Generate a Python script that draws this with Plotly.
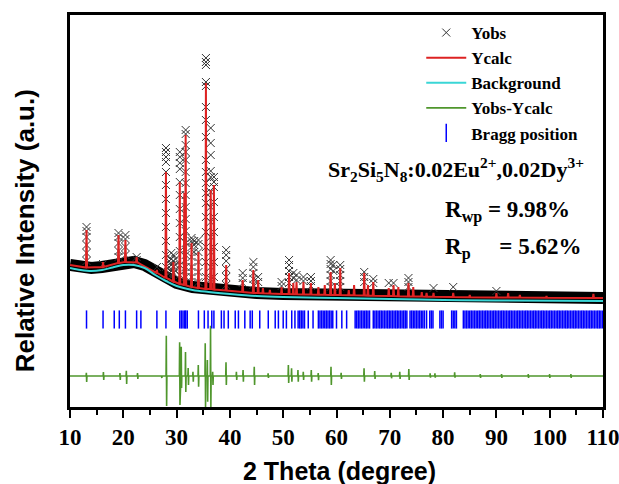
import plotly.graph_objects as go

# ---------------- data (intensity in arbitrary units) ----------------
bg_x = [10, 12, 14, 16, 18, 20, 22, 24, 26, 28, 30, 33, 36, 40, 45, 50, 60, 70, 80, 90, 110]
bg_y = [139, 137, 136, 137, 139.5, 142, 142, 139, 132, 126, 121, 117, 115, 113, 111, 110, 109, 108, 107, 106.5, 106]
band_y = [142, 140, 139, 140, 142.5, 145, 145, 142, 135, 129, 124, 120, 118, 116, 114, 113, 112, 111, 110, 109.5, 109]

calc_pos = [13.1, 16.2, 19.1, 20.4, 22.5, 26.3, 28.0, 29.4, 30.6, 31.45, 31.7, 32.8, 34.1, 35.5, 36.4, 37.0,
            39.3, 42.4, 44.4, 45.3, 46.2, 47.5, 49.7, 51.1, 51.9, 52.5, 53.8, 55.2, 56.6, 57.8, 58.9, 59.7,
            60.7, 62.3, 63.3, 65.2, 65.9, 66.9, 69.8, 70.7, 71.6, 73.5, 74.4, 76.0, 76.9, 78.2, 81.9, 85.0,
            90.0, 92.2, 94.4, 99.4, 108.2]
calc_top = [177, 145, 172, 167, 150, 137, 235, 145, 225, 214, 272, 164, 155, 324, 217, 222,
            142, 127, 137, 127, 119, 117, 120, 134, 124, 125, 125, 124, 120, 122, 135, 124,
            139, 117, 122, 134, 122, 125, 119, 122, 120, 124, 120, 115, 114, 114, 114, 112,
            114, 114, 112, 111, 113]
calc_base = [139.5, 140, 144, 145, 144.5, 134, 129, 125.5, 123, 122, 121.5, 120, 119, 118, 118, 117.5,
             116.5, 115, 114, 114, 113.8, 113.5, 113, 113, 112.8, 112.7, 112.6, 112.5, 112.3, 112.2, 112.1, 112,
             112, 111.8, 111.7, 111.5, 111.4, 111.3, 111, 111, 110.8, 110.6, 110.6, 110.4, 110.3, 110.2, 110, 109.7,
             109.5, 109.5, 109.4, 109.3, 109]

obs_peaks = [
    (13.1, [180, 176, 170, 162, 154, 146]),
    (16.2, [143]),
    (19.1, [174, 170, 164, 156, 150]),
    (20.4, [172, 168, 160, 152]),
    (22.5, [150, 147]),
    (26.3, [140]),
    (28.0, [259, 255, 250, 245, 235, 222, 208, 194, 180, 166, 152, 140]),
    (28.6, [146, 140, 134]),
    (29.0, [154, 148, 142, 136, 130]),
    (29.4, [152, 146, 140, 134]),
    (29.8, [148, 142, 136]),
    (30.6, [255, 250, 244, 238, 225, 212, 198, 184, 170, 156, 142, 132]),
    (31.7, [277, 273, 262, 255, 247, 235, 224, 212, 200, 188, 176, 164, 152, 140, 130]),
    (32.8, [169, 166, 160, 150, 140, 130]),
    (33.3, [166, 162, 155]),
    (34.1, [167, 163, 155, 145, 135, 125]),
    (35.5, [349, 345, 342, 325, 321, 300, 287, 270, 247, 235, 224, 214, 204, 190, 175, 160, 145, 130]),
    (36.4, [279, 264, 252, 236, 230, 215, 200, 185, 170, 155, 140, 128]),
    (37.0, [230, 225, 220, 205, 190, 175, 160, 145, 130]),
    (39.3, [157, 152, 146, 138, 130, 122]),
    (42.4, [134, 129, 124]),
    (44.4, [145, 140, 134, 128, 122]),
    (45.3, [130, 125]),
    (49.7, [125, 121]),
    (51.1, [147, 142, 136, 130, 124]),
    (51.9, [134, 129]),
    (52.5, [132, 127]),
    (53.8, [130, 126]),
    (55.2, [130, 126, 121]),
    (58.9, [147, 143, 138, 132, 126, 120]),
    (59.4, [142, 136]),
    (60.7, [142, 138, 132, 126, 120]),
    (65.2, [135, 130, 125]),
    (66.9, [128, 124]),
    (69.8, [124]),
    (70.7, [124]),
    (73.5, [129, 125, 120]),
    (78.2, [119]),
    (81.9, [120]),
    (90.0, [116]),
]

diff_base = 31
diff_pos = [13.1, 16.3, 19.4, 20.6, 22.7, 27.2, 28.1, 30.6, 30.9, 31.7, 32.2, 33.1, 34.1, 35.4, 35.8, 36.4,
            36.8, 39.3, 41.25, 42.5, 44.6, 47.2, 51.0, 51.6, 52.8, 53.8, 55.3, 56.6, 59.0, 60.9, 65.2, 67.2,
            70.3, 71.9, 73.6, 77.6, 78.5, 82.2, 87.0, 91.0, 96.0, 100.0, 104.0]
diff_up = [34.3, 35, 34, 36.3, 34, 31, 71.3, 64.7, 60.3, 55, 39, 35.3, 42, 63.7, 47, 81.3,
           35.3, 44.7, 35.3, 37, 40.3, 33.7, 42, 38.7, 37, 35.3, 37, 34, 40.3, 34.3, 38.7, 36,
           34.3, 35.3, 38, 33.7, 33.7, 34.7, 33, 33, 33, 33, 33]
diff_down = [25, 27, 27, 23, 28, 29, 1, 2, 19, 15, 22, 25.3, 20.3, 0, 5.3, 0,
             22, 22, 27, 25.3, 22, 29, 24, 25.3, 25.3, 27, 25.3, 26.7, 22, 28, 25.3, 28,
             28.7, 28, 27, 29.3, 29.3, 29.3, 29, 29, 29, 29, 29]

bragg_pos = [13.1, 16.2, 18.3, 19.25, 20.4, 22.5, 23.3, 26.3, 28.0, 30.6, 30.9, 31.2, 31.5, 31.7, 32.0,
             34.1, 35.2, 35.9, 36.6, 37.0, 38.4, 38.9, 39.7, 41.0, 41.6, 42.8, 43.8, 44.2, 45.6, 47.2,
             48.5, 49.1, 50.0, 50.6, 51.6, 52.2, 52.8, 53.1, 53.4, 53.7, 54.0, 54.7, 55.6,
             56.6, 56.9, 57.2, 57.5, 57.8, 58.1, 58.4, 58.7, 59.0, 59.3, 60.0, 61.0, 61.9,
             63.5, 63.8, 64.1, 64.4, 64.7, 65.0, 65.3, 65.6, 65.9, 66.2,
             66.9, 67.2, 67.5, 67.8, 68.1, 68.4, 68.7, 69.0, 69.3, 69.6, 69.9, 70.2, 70.5, 70.8,
             71.1, 71.4, 71.7, 72.0, 72.3, 72.6, 72.9, 73.2,
             73.8, 74.1, 74.4, 74.7, 75.0, 75.3, 75.6, 75.9, 76.2, 76.5, 76.9,
             77.5, 77.8, 78.1, 79.4, 79.7, 80.0, 81.6, 81.9, 82.2, 82.5,
             83.8, 84.1, 84.4, 84.7, 85.0, 85.3, 85.6, 85.9, 86.2, 86.5, 86.8, 87.1, 87.4, 87.7,
             88.0, 88.3, 88.6, 88.9, 89.2, 89.5, 89.8, 90.1, 90.4, 90.7, 91.0, 91.3, 91.6, 91.9,
             92.2, 92.5, 92.8, 93.1, 93.4, 93.7, 94.0, 94.3, 94.6, 94.9, 95.2, 95.5, 95.8, 96.1,
             96.4, 96.7, 97.0, 97.3, 97.6, 97.9, 98.2, 98.5, 98.8, 99.1, 99.4, 99.7, 100.0, 100.3,
             100.6, 100.9, 101.2, 101.5, 101.8, 102.1, 102.4, 102.7, 103.0, 103.3, 103.6, 103.9,
             104.2, 104.5, 104.8, 105.1, 105.4, 105.7, 106.0, 106.3, 106.6, 106.9, 107.2, 107.5,
             107.8, 108.1, 108.4, 108.7, 109.0, 109.3, 109.6, 109.9]
bragg_level = 87.5

x_ticks = [10, 20, 30, 40, 50, 60, 70, 80, 90, 100, 110]

# ---------------- build traces ----------------
obs_x, obs_y = [], []
for pos, levels in obs_peaks:
    for lv in levels:
        obs_x.append(pos)
        obs_y.append(lv)

calc_x, calc_y = [bg_x[0]], [band_y[0]]
for p, t, b in zip(calc_pos, calc_top, calc_base):
    calc_x += [p - 0.1, p, p + 0.1]
    calc_y += [b, t, b]
calc_x.append(bg_x[-1])
calc_y.append(band_y[-1])

diff_x, diff_y = [bg_x[0]], [diff_base]
for p, u, d in zip(diff_pos, diff_up, diff_down):
    diff_x += [p - 0.08, p - 0.03, p + 0.03, p + 0.08]
    diff_y += [diff_base, u, d, diff_base]
diff_x.append(bg_x[-1])
diff_y.append(diff_base)

serif = "Liberation Serif"
sans = "Liberation Sans"

fig = go.Figure()
fig.add_trace(go.Scatter(x=bg_x, y=band_y, mode="lines", line=dict(color="black", width=12),
                         showlegend=False, hoverinfo="skip"))
fig.add_trace(go.Scatter(x=obs_x, y=obs_y, mode="markers", name="Yobs",
                         marker=dict(symbol="x-thin", size=8, color="#333333",
                                     line=dict(width=1, color="#333333"))))
fig.add_trace(go.Scatter(x=calc_x, y=calc_y, mode="lines", name="Ycalc",
                         line=dict(color="#dd2222", width=2)))
fig.add_trace(go.Scatter(x=bg_x, y=bg_y, mode="lines", name="Background",
                         line=dict(color="#3ad6d6", width=2, shape="spline")))
fig.add_trace(go.Scatter(x=diff_x, y=diff_y, mode="lines", name="Yobs-Ycalc",
                         line=dict(color="#4f962c", width=1.6)))
fig.add_trace(go.Scatter(x=bragg_pos, y=[bragg_level] * len(bragg_pos), mode="markers",
                         name="Bragg position",
                         marker=dict(symbol="line-ns", size=13, color="#0000ff",
                                     line=dict(width=1.5, color="#0000ff"))))

fig.update_layout(
    width=619, height=484,
    margin=dict(l=70, r=16, t=15, b=77),
    paper_bgcolor="white", plot_bgcolor="white",
    showlegend=True,
    legend=dict(x=0.659, y=1.0, xanchor="left", yanchor="top",
                bgcolor="rgba(0,0,0,0)", traceorder="normal",
                font=dict(family=serif, size=17, color="black", weight="bold"),
                itemwidth=40),
    xaxis=dict(range=[10, 110], tickvals=x_ticks, ticks="outside", ticklen=8, tickwidth=2,
               tickcolor="black", showline=True, linecolor="black", linewidth=2.5, mirror=True,
               showgrid=False, zeroline=False, ticklabeloverflow="allow", automargin=False,
               tickfont=dict(family=serif, size=23, color="black", weight="bold"),
               minor=dict(dtick=5, ticks="outside", ticklen=5, tickwidth=2, tickcolor="black")),
    yaxis=dict(range=[0, 392], showticklabels=False, ticks="", showline=True, linecolor="black",
               linewidth=2.5, mirror=True, showgrid=False, zeroline=False, automargin=False),
    annotations=[
        dict(text="Relative Intensity (a.u.)", xref="paper", yref="paper", x=-0.085, y=0.45,
             textangle=-90, showarrow=False, xanchor="center", yanchor="middle",
             font=dict(family=sans, size=26, color="black", weight="bold")),
        dict(text="2 Theta (degree)", xref="paper", yref="paper", x=0.505, y=-0.163,
             showarrow=False, xanchor="center", yanchor="middle",
             font=dict(family=sans, size=25, color="black", weight="bold")),
        dict(text="Sr<sub>2</sub>Si<sub>5</sub>N<sub>8</sub>:0.02Eu<sup>2+</sup>,0.02Dy<sup>3+</sup>",
             xref="paper", yref="paper", x=0.48, y=0.605, showarrow=False,
             xanchor="left", yanchor="middle",
             font=dict(family=serif, size=22, color="black", weight="bold")),
        dict(text="R<sub>wp</sub> = 9.98%", xref="paper", yref="paper", x=0.70, y=0.50,
             showarrow=False, xanchor="left", yanchor="middle",
             font=dict(family=serif, size=23, color="black", weight="bold")),
        dict(text="R<sub>p</sub>&nbsp;&nbsp;&nbsp;&nbsp;&nbsp;= 5.62%", xref="paper", yref="paper",
             x=0.70, y=0.405, showarrow=False, xanchor="left", yanchor="middle",
             font=dict(family=serif, size=23, color="black", weight="bold")),
    ],
)

fig.write_html(
    "out.html",
    config={"displayModeBar": False},
    post_script="document.body.style.margin='0';document.body.style.overflow='hidden';",
)
